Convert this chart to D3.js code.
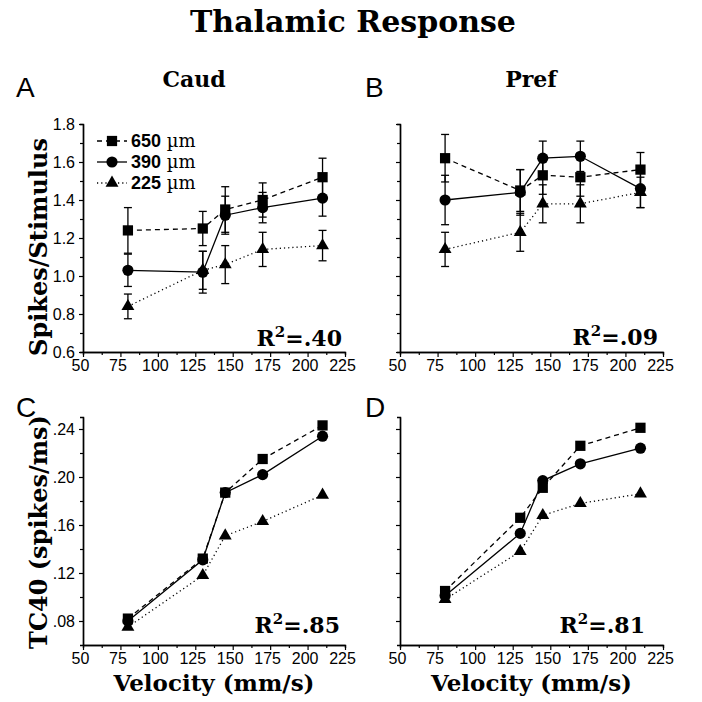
<!DOCTYPE html>
<html>
<head>
<meta charset="utf-8">
<script src="https://cdn.jsdelivr.net/npm/d3@7"></script>
<style>
  body { margin: 0; background: #fff; }
  svg { display: block; }
</style>
</head>
<body>
<script>
// Stimulus velocities (mm/s), same for every panel
const velocity = [80, 130, 145, 170, 210];
const xTicks = [50, 75, 100, 125, 150, 175, 200, 225];
const xMinor = [62.5, 87.5, 112.5, 137.5, 162.5, 187.5, 212.5];

// A - Caud, spikes/stimulus (mean and error)
const caud650 = [1.24, 1.25, 1.35, 1.40, 1.52];
const caud650Err = [0.12, 0.09, 0.12, 0.09, 0.10];
const caud390 = [1.03, 1.02, 1.32, 1.36, 1.41];
const caud390Err = [0.085, 0.11, 0.10, 0.08, 0.095];
const caud225 = [0.84, 1.03, 1.06, 1.14, 1.16];
const caud225Err = [0.065, 0.10, 0.10, 0.09, 0.08];

// B - Pref, spikes/stimulus
const pref650 = [1.62, 1.45, 1.53, 1.52, 1.56];
const pref650Err = [0.125, 0.11, 0.10, 0.10, 0.09];
const pref390 = [1.40, 1.44, 1.62, 1.63, 1.46];
const pref390Err = [0.13, 0.12, 0.09, 0.08, 0.10];
const pref225 = [1.14, 1.23, 1.38, 1.38, 1.44];
const pref225Err = [0.09, 0.10, 0.10, 0.10, 0.08];

// C - Caud, TC40 (spikes/ms)
const caudTc650 = [0.082, 0.132, 0.187, 0.215, 0.243];
const caudTc390 = [0.080, 0.131, 0.187, 0.202, 0.234];
const caudTc225 = [0.075, 0.118, 0.151, 0.163, 0.185];

// D - Pref, TC40 (spikes/ms)
const prefTc650 = [0.105, 0.166, 0.191, 0.226, 0.241];
const prefTc390 = [0.101, 0.153, 0.197, 0.211, 0.224];
const prefTc225 = [0.098, 0.138, 0.168, 0.178, 0.186];

const spikesTicks = [0.6, 0.8, 1.0, 1.2, 1.4, 1.6, 1.8];
const spikesMinor = [0.7, 0.9, 1.1, 1.3, 1.5, 1.7];
const tcTicks = [0.08, 0.12, 0.16, 0.20, 0.24];
const tcMinor = [0.10, 0.14, 0.18, 0.22];

const seriesNames = ["650", "390", "225"];
const r2Values = [".40", ".09", ".85", ".81"];
const panelLetters = ["A", "B", "C", "D"];
const columnTitles = ["Caud", "Pref"];

const serif = "'DejaVu Serif', serif";
const sans = "'Liberation Sans', Arial, sans-serif";

// one style per series: 650 dashed squares, 390 solid circles, 225 dotted triangles
const styles = [
  {dash: "5,4", symbol: d3.symbolSquare, size: 105},
  {dash: null, symbol: d3.symbolCircle, size: 98},
  {dash: "1.2,3", symbol: d3.symbolTriangle, size: 72}
];

const svg = d3.select("body").append("svg")
    .attr("width", 702)
    .attr("height", 702);

const cols = [{x0: 83, x1: 345}, {x0: 400, x1: 663}];
const rows = [
  {y0: 352, y1: 124, domain: [0.6, 1.8], ticks: spikesTicks, minor: spikesMinor,
   fmt: d3.format(".1f")},
  {y0: 645, y1: 417, domain: [0.06, 0.25], ticks: tcTicks, minor: tcMinor,
   fmt: d => d3.format(".2f")(d).replace(/^0/, "")}
];

const panels = [
  {row: 0, col: 0, series: [caud650, caud390, caud225],
   errs: [caud650Err, caud390Err, caud225Err], r2x: 342, r2y: 346},
  {row: 0, col: 1, series: [pref650, pref390, pref225],
   errs: [pref650Err, pref390Err, pref225Err], r2x: 658, r2y: 345},
  {row: 1, col: 0, series: [caudTc650, caudTc390, caudTc225],
   errs: null, r2x: 340, r2y: 633},
  {row: 1, col: 1, series: [prefTc650, prefTc390, prefTc225],
   errs: null, r2x: 645, r2y: 633}
];

function styleAxis(a) {
  a.selectAll("path.domain").attr("stroke", "#000").attr("stroke-width", 1.4);
  a.selectAll(".tick line").attr("stroke", "#000").attr("stroke-width", 1.2);
  a.selectAll(".tick text").attr("fill", "#000")
    .style("font-family", sans).style("font-size", "16px");
}

function drawPanel(p, idx) {
  const c = cols[p.col], r = rows[p.row];
  const x = d3.scaleLinear().domain([50, 225]).range([c.x0, c.x1]);
  const y = d3.scaleLinear().domain(r.domain).range([r.y0, r.y1]);
  const g = svg.append("g");

  // minor ticks first, major axes on top
  g.append("g").attr("transform", `translate(0,${r.y0})`)
    .call(d3.axisBottom(x).tickValues(xMinor).tickSize(3).tickFormat(""))
    .call(styleAxis);
  g.append("g").attr("transform", `translate(${c.x0},0)`)
    .call(d3.axisLeft(y).tickValues(r.minor).tickSize(3).tickFormat(""))
    .call(styleAxis);

  const xa = g.append("g").attr("transform", `translate(0,${r.y0})`)
    .call(d3.axisBottom(x).tickValues(xTicks).tickSize(5).tickSizeOuter(0).tickPadding(3))
    .call(styleAxis);
  xa.selectAll(".tick text").attr("dx", "-3");

  g.append("g").attr("transform", `translate(${c.x0},0)`)
    .call(d3.axisLeft(y).tickValues(r.ticks).tickSize(4).tickSizeOuter(0).tickPadding(4)
      .tickFormat(p.col === 0 ? r.fmt : ""))
    .call(styleAxis);

  const line = d3.line()
    .x((d, i) => x(velocity[i]))
    .y(d => y(d));

  p.series.forEach((s, k) => {
    g.append("path")
      .datum(s)
      .attr("d", line)
      .attr("fill", "none")
      .attr("stroke", "#000")
      .attr("stroke-width", 1.3)
      .attr("stroke-dasharray", styles[k].dash);
  });

  // error bars (top row only)
  if (p.errs) {
    p.series.forEach((s, k) => {
      s.forEach((v, i) => {
        const e = p.errs[k][i], cx = x(velocity[i]);
        const eg = g.append("g").attr("stroke", "#000").attr("stroke-width", 1.3);
        eg.append("line").attr("x1", cx).attr("x2", cx)
          .attr("y1", y(v - e)).attr("y2", y(v + e));
        [v - e, v + e].forEach(t => {
          eg.append("line").attr("x1", cx - 4).attr("x2", cx + 4)
            .attr("y1", y(t)).attr("y2", y(t));
        });
      });
    });
  }

  p.series.forEach((s, k) => {
    g.selectAll(null)
      .data(s)
      .enter()
      .append("path")
      .attr("transform", (d, i) => `translate(${x(velocity[i])},${y(d)})`)
      .attr("d", d3.symbol().type(styles[k].symbol).size(styles[k].size))
      .attr("fill", "#000");
  });

  // R^2 label
  const t = g.append("text")
    .attr("x", p.r2x).attr("y", p.r2y)
    .attr("text-anchor", "end")
    .style("font-family", serif).style("font-weight", "bold").style("font-size", "22px");
  t.append("tspan").text("R");
  t.append("tspan").attr("dy", -9).style("font-size", "15px").text("2");
  t.append("tspan").attr("dy", 9).text("=" + r2Values[idx]);

  // panel letter
  svg.append("text")
    .attr("x", p.col === 0 ? 16 : 365)
    .attr("y", p.row === 0 ? 97 : 417)
    .style("font-family", sans).style("font-size", "28px")
    .text(panelLetters[idx]);
}

panels.forEach(drawPanel);

// legend in panel A
const legend = svg.append("g");
seriesNames.forEach((name, k) => {
  const cy = 141 + k * 21;
  legend.append("line")
    .attr("x1", 97).attr("x2", 127).attr("y1", cy).attr("y2", cy)
    .attr("stroke", "#000").attr("stroke-width", 1.3)
    .attr("stroke-dasharray", styles[k].dash);
  legend.append("path")
    .attr("transform", `translate(112,${cy})`)
    .attr("d", d3.symbol().type(styles[k].symbol).size(styles[k].size))
    .attr("fill", "#000");
  const t = legend.append("text").attr("x", 131).attr("y", cy + 6);
  t.append("tspan").style("font-family", sans).style("font-weight", "bold")
    .style("font-size", "18px").text(name);
  t.append("tspan").style("font-family", serif).style("font-size", "18px")
    .text(" \u00b5m");
});

// titles
svg.append("text")
  .attr("x", 353).attr("y", 32)
  .attr("text-anchor", "middle")
  .style("font-family", serif).style("font-weight", "bold").style("font-size", "30px")
  .text("Thalamic Response");

columnTitles.forEach((name, i) => {
  svg.append("text")
    .attr("x", i === 0 ? 194 : 531).attr("y", 87)
    .attr("text-anchor", "middle")
    .style("font-family", serif).style("font-weight", "bold").style("font-size", "22px")
    .text(name);
});

// axis titles
const yTitles = [{text: "Spikes/Stimulus", cy: 247}, {text: "TC40 (spikes/ms)", cy: 532}];
yTitles.forEach(d => {
  svg.append("text")
    .attr("transform", `translate(47,${d.cy}) rotate(-90)`)
    .attr("text-anchor", "middle")
    .style("font-family", serif).style("font-weight", "bold").style("font-size", "24px")
    .text(d.text);
});

cols.forEach(c => {
  svg.append("text")
    .attr("x", (c.x0 + c.x1) / 2).attr("y", 691)
    .attr("text-anchor", "middle")
    .style("font-family", serif).style("font-weight", "bold").style("font-size", "23px")
    .text("Velocity (mm/s)");
});
</script>
</body>
</html>
